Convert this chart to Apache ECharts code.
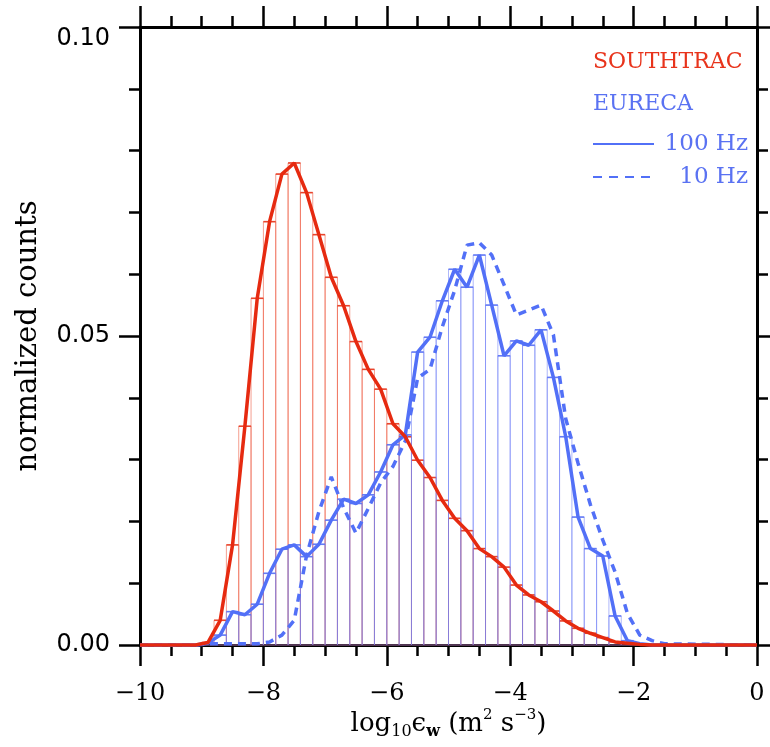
<!DOCTYPE html>
<html><head><meta charset="utf-8">
<script src="https://cdn.jsdelivr.net/npm/echarts@6/dist/echarts.min.js"></script>
<style>html,body{margin:0;padding:0;background:#fff}#c{width:770px;height:747px}</style>
</head><body><div id="c"></div>
<script>
// bin centres of log10(eps_w), bin width 0.2
const binCenters = [-9.1, -8.9, -8.7, -8.5, -8.3, -8.1, -7.9, -7.7, -7.5, -7.3,
                    -7.1, -6.9, -6.7, -6.5, -6.3, -6.1, -5.9, -5.7, -5.5, -5.3,
                    -5.1, -4.9, -4.7, -4.5, -4.3, -4.1, -3.9, -3.7, -3.5, -3.3,
                    -3.1, -2.9, -2.7, -2.5, -2.3, -2.1, -1.9, -1.7, -1.5];
const southtrac = [0, 0.0004, 0.0040, 0.0162, 0.0354, 0.0561, 0.0685, 0.0762, 0.0780, 0.0732,
                   0.0664, 0.0595, 0.0549, 0.0491, 0.0446, 0.0414, 0.0358, 0.0337, 0.0299, 0.0271,
                   0.0234, 0.0205, 0.0185, 0.0156, 0.0143, 0.0126, 0.0097, 0.0081, 0.0070, 0.0055,
                   0.0039, 0.0027, 0.0019, 0.0012, 0.0005, 0.0003, 0.0001, 0, 0];
const eureca100 = [0, 0.0003, 0.0016, 0.0054, 0.0049, 0.0066, 0.0116, 0.0155, 0.0162, 0.0143,
                   0.0163, 0.0202, 0.0236, 0.0229, 0.0243, 0.0280, 0.0324, 0.0340, 0.0474, 0.0498,
                   0.0557, 0.0608, 0.0579, 0.0631, 0.0550, 0.0468, 0.0492, 0.0485, 0.0510, 0.0433,
                   0.0337, 0.0207, 0.0156, 0.0144, 0.0047, 0.0007, 0.0002, 0, 0];
const eureca10 = [0, 0.0002, 0.0002, 0.0002, 0.0002, 0.0002, 0.0005, 0.0016, 0.0040, 0.0145,
                  0.0216, 0.0272, 0.0222, 0.0181, 0.0221, 0.0262, 0.0289, 0.0330, 0.0432, 0.0446,
                  0.0515, 0.0574, 0.0647, 0.0651, 0.0631, 0.0583, 0.0534, 0.0542, 0.0550, 0.0502,
                  0.0366, 0.0294, 0.0227, 0.0170, 0.0118, 0.0051, 0.0016, 0.0007, 0.0002];
const xRange = [-10, 0];
const yRange = [0, 0.10];
const seriesNames = ['SOUTHTRAC', 'EURECA', '100 Hz', '10 Hz'];

const RED = '#e62a10', BLUE = '#5270f7';
const halfBin = (binCenters[1] - binCenters[0]) / 2;

function lineData(vals) {
  return [[xRange[0], 0]].concat(binCenters.map((c, i) => [c, vals[i]]), [[xRange[1], 0]]);
}
function barSeries(name, vals, stroke, top) {
  return {
    type: 'custom', name: name, clip: false, z: 3,
    data: binCenters.map((c, i) => [c, vals[i]]),
    encode: { x: 0, y: 1 },
    renderItem: function (params, api) {
      const c = api.value(0), v = api.value(1);
      if (!(v > 0)) return null;
      const p0 = api.coord([c - halfBin, 0]);
      const p1 = api.coord([c + halfBin, v]);
      return { type: 'group', children: [
        { type: 'rect', shape: { x: p0[0], y: p1[1], width: p1[0] - p0[0], height: p0[1] - p1[1] },
          style: { fill: 'none', stroke: stroke, lineWidth: 1 } },
        { type: 'line', shape: { x1: p0[0], y1: p1[1], x2: p1[0], y2: p1[1] },
          style: { stroke: top, lineWidth: 1.6 } }
      ]};
    }
  };
}
const axisCommon = {
  type: 'value',
  axisLine: { show: true, onZero: false, lineStyle: { color: '#000', width: 3 } },
  axisTick: { show: true, inside: false, length: 21, lineStyle: { color: '#000', width: 2.5 } },
  minorTick: { show: true, length: 11, lineStyle: { color: '#000', width: 2.5 } },
  splitLine: { show: false }, minorSplitLine: { show: false }
};
const xA = (extra) => Object.assign({}, axisCommon, { min: xRange[0], max: xRange[1], interval: 2,
  minorTick: Object.assign({}, axisCommon.minorTick, { splitNumber: 4 }) }, extra);
const yA = (extra) => Object.assign({}, axisCommon, { min: yRange[0], max: yRange[1], interval: 0.05,
  minorTick: Object.assign({}, axisCommon.minorTick, { splitNumber: 5 }) }, extra);

const chart = echarts.init(document.getElementById('c'));
chart.setOption({
  animation: false,
  backgroundColor: '#fff',
  grid: { left: 140, right: 13, top: 27, bottom: 102, containLabel: false, outerBoundsMode: 'none' },
  xAxis: [
    xA({ position: 'bottom',
      axisLabel: { margin: 37, fontFamily: 'DejaVu Serif', fontSize: 24, color: '#000',
        formatter: v => String(v).replace('-', '\u2212') },
      name: 'log{sub|10}\u03f5{subw|w} (m{sup|2} s{sup|\u22123})',
      nameLocation: 'middle', nameGap: 63, nameMoveOverlap: false,
      nameTextStyle: { fontFamily: 'DejaVu Serif', fontSize: 26, color: '#000', lineHeight: 32,
        rich: {
          sub: { fontFamily: 'DejaVu Serif', fontSize: 16, lineHeight: 16, verticalAlign: 'bottom', color: '#000' },
          subw: { fontFamily: 'DejaVu Serif', fontSize: 16, fontWeight: 'bold', lineHeight: 16, verticalAlign: 'bottom', color: '#000' },
          sup: { fontFamily: 'DejaVu Serif', fontSize: 15, lineHeight: 15, verticalAlign: 'top', color: '#000' }
        } } }),
    xA({ position: 'top', axisLabel: { show: false } })
  ],
  yAxis: [
    yA({ position: 'left',
      axisLabel: { margin: 30, fontFamily: 'DejaVu Sans', fontSize: 24, color: '#000',
        verticalAlignMaxLabel: 'top', formatter: v => v.toFixed(2) },
      name: 'normalized counts', nameLocation: 'middle', nameRotate: 90, nameGap: 97, nameMoveOverlap: false,
      nameTextStyle: { fontFamily: 'DejaVu Serif', fontSize: 29, color: '#000' } }),
    yA({ position: 'right', axisLabel: { show: false } })
  ],
  series: [
    barSeries(seriesNames[0], southtrac, 'rgba(238,95,70,0.6)', 'rgba(230,50,25,0.85)'),
    barSeries(seriesNames[1] + ' ' + seriesNames[2], eureca100, 'rgba(110,125,245,0.55)', 'rgba(85,110,245,0.85)'),
    { type: 'line', name: seriesNames[1] + ' ' + seriesNames[3], data: lineData(eureca10), showSymbol: false, symbol: 'none',
      clip: false, z: 4, lineStyle: { color: BLUE, width: 3.5, type: [8, 6] } },
    { type: 'line', name: seriesNames[1] + ' ' + seriesNames[2], data: lineData(eureca100), showSymbol: false, symbol: 'none',
      clip: false, z: 5, lineStyle: { color: BLUE, width: 3.5 } },
    { type: 'line', name: seriesNames[0], data: lineData(southtrac), showSymbol: false, symbol: 'none',
      clip: false, z: 6, lineStyle: { color: RED, width: 3.5 } }
  ],
  graphic: [
    { type: 'text', left: 593, top: 51, style: { text: seriesNames[0], fill: '#e8341c', font: '22px "DejaVu Serif"' } },
    { type: 'text', left: 593, top: 93, style: { text: seriesNames[1], fill: '#5a72f2', font: '22px "DejaVu Serif"' } },
    { type: 'line', shape: { x1: 593, y1: 144, x2: 654, y2: 144 }, style: { stroke: BLUE, lineWidth: 2 } },
    { type: 'text', right: 22, top: 133, style: { text: seriesNames[2], fill: '#5a72f2', font: '23px "DejaVu Serif"' } },
    { type: 'line', shape: { x1: 593, y1: 177, x2: 654, y2: 177 }, style: { stroke: BLUE, lineWidth: 2, lineDash: [9, 7] } },
    { type: 'text', right: 22, top: 166, style: { text: seriesNames[3], fill: '#5a72f2', font: '23px "DejaVu Serif"' } }
  ]
});
</script></body></html>
